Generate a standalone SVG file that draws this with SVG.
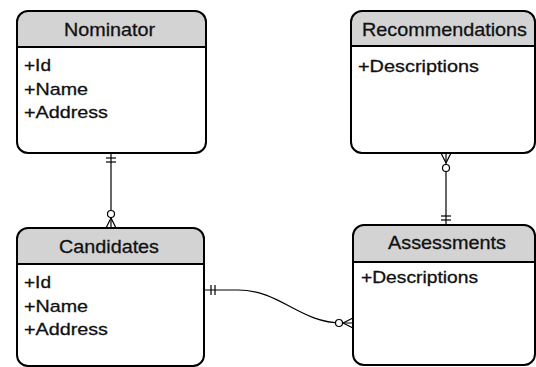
<svg xmlns="http://www.w3.org/2000/svg" width="536" height="367" viewBox="0 0 536 367">
<style>
.box{fill:none;stroke:#000;stroke-width:2}
.hdr{fill:#d3d3d3}
.sep{stroke:#000;stroke-width:2}
.title{font-family:"Liberation Sans",Arial,sans-serif;font-size:18.5px;fill:#111;stroke:#111;stroke-width:0.3}
.attr{font-family:"Liberation Sans",Arial,sans-serif;font-size:17px;fill:#111;stroke:#111;stroke-width:0.3}
.con{fill:none;stroke:#000;stroke-width:1.2}
.circ{fill:#fff;stroke:#000;stroke-width:1.2}
</style>
<defs>
<clipPath id="c1"><rect x="17" y="11" width="189" height="142" rx="11"/></clipPath>
<clipPath id="c2"><rect x="351" y="11" width="184" height="142" rx="11"/></clipPath>
<clipPath id="c3"><rect x="17" y="228" width="187" height="138" rx="11"/></clipPath>
<clipPath id="c4"><rect x="353" y="225" width="182" height="140" rx="11"/></clipPath>
</defs>
<g id="connectors">
  <line class="con" x1="111" y1="153" x2="111" y2="228"/>
  <line class="con" x1="106" y1="158" x2="116" y2="158"/>
  <line class="con" x1="106" y1="162" x2="116" y2="162"/>
  <circle class="circ" cx="111" cy="214" r="3.5"/>
  <path class="con" d="M111 218 L106 228 M111 218 L116 228"/>
  <line class="con" x1="446" y1="153" x2="446" y2="225"/>
  <path class="con" d="M446 163 L441 153 M446 163 L451 153"/>
  <circle class="circ" cx="446" cy="168" r="3.5"/>
  <line class="con" x1="441" y1="216" x2="451" y2="216"/>
  <line class="con" x1="441" y1="220" x2="451" y2="220"/>
  <path class="con" d="M204 290 L238 290 C 280 290, 300 323, 342 323 L353 323"/>
  <line class="con" x1="211" y1="285" x2="211" y2="295"/>
  <line class="con" x1="215" y1="285" x2="215" y2="295"/>
  <circle class="circ" cx="339" cy="323" r="3.5"/>
  <path class="con" d="M343 323 L353 318 M343 323 L353 328"/>
</g>
<g id="nominator">
  <rect class="hdr" x="17" y="11" width="189" height="36" clip-path="url(#c1)"/>
  <line class="sep" x1="17" y1="47" x2="206" y2="47"/>
  <rect class="box" x="17" y="11" width="189" height="142" rx="11"/>
  <text class="title" x="64" y="36" textLength="91" lengthAdjust="spacingAndGlyphs">Nominator</text>
  <text class="attr" x="24" y="71" textLength="27" lengthAdjust="spacingAndGlyphs">+Id</text>
  <text class="attr" x="24" y="95" textLength="64" lengthAdjust="spacingAndGlyphs">+Name</text>
  <text class="attr" x="24" y="118" textLength="84" lengthAdjust="spacingAndGlyphs">+Address</text>
</g>
<g id="recommendations">
  <rect class="hdr" x="351" y="11" width="184" height="35" clip-path="url(#c2)"/>
  <line class="sep" x1="351" y1="46" x2="535" y2="46"/>
  <rect class="box" x="351" y="11" width="184" height="142" rx="11"/>
  <text class="title" x="362" y="36" textLength="165" lengthAdjust="spacingAndGlyphs">Recommendations</text>
  <text class="attr" x="358" y="72" textLength="121" lengthAdjust="spacingAndGlyphs">+Descriptions</text>
</g>
<g id="candidates">
  <rect class="hdr" x="17" y="228" width="187" height="36" clip-path="url(#c3)"/>
  <line class="sep" x1="17" y1="264" x2="204" y2="264"/>
  <rect class="box" x="17" y="228" width="187" height="138" rx="11"/>
  <text class="title" x="59" y="253" textLength="100" lengthAdjust="spacingAndGlyphs">Candidates</text>
  <text class="attr" x="24" y="288" textLength="27" lengthAdjust="spacingAndGlyphs">+Id</text>
  <text class="attr" x="24" y="312" textLength="64" lengthAdjust="spacingAndGlyphs">+Name</text>
  <text class="attr" x="24" y="335" textLength="84" lengthAdjust="spacingAndGlyphs">+Address</text>
</g>
<g id="assessments">
  <rect class="hdr" x="353" y="225" width="182" height="37" clip-path="url(#c4)"/>
  <line class="sep" x1="353" y1="262" x2="535" y2="262"/>
  <rect class="box" x="353" y="225" width="182" height="140" rx="11"/>
  <text class="title" x="388" y="249" textLength="118" lengthAdjust="spacingAndGlyphs">Assessments</text>
  <text class="attr" x="361" y="283" textLength="117" lengthAdjust="spacingAndGlyphs">+Descriptions</text>
</g>
</svg>
